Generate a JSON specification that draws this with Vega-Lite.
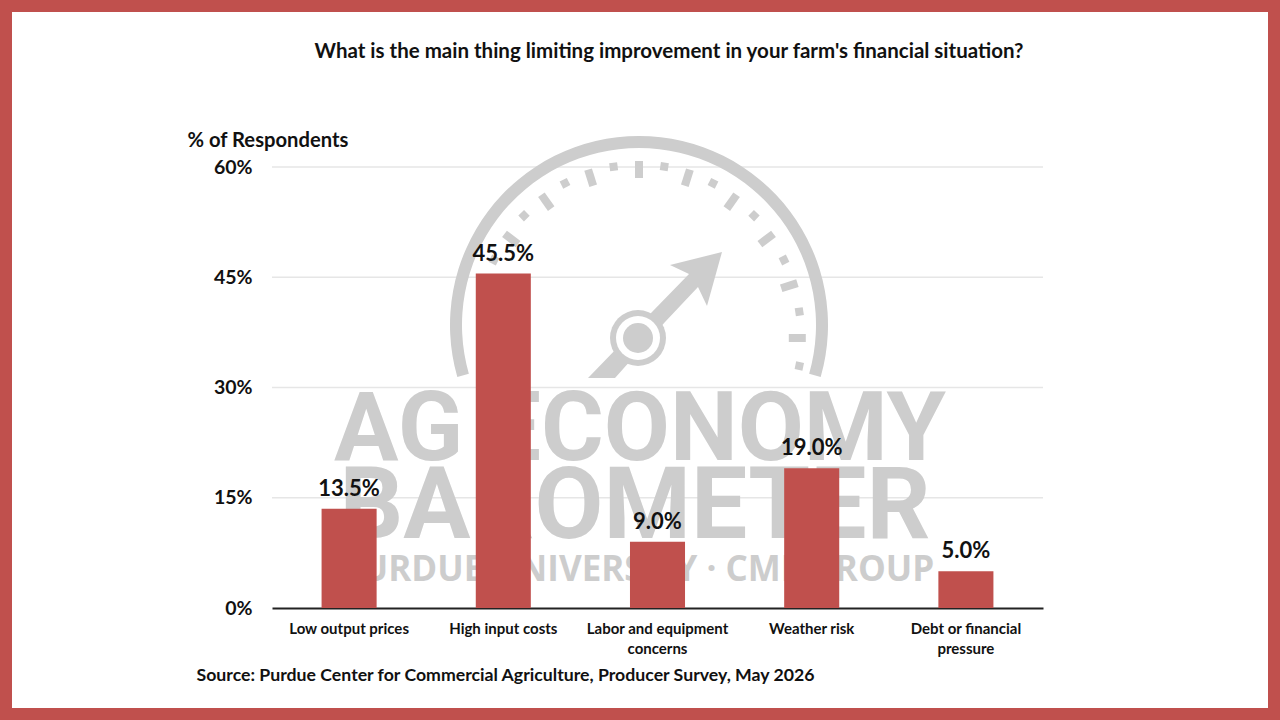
{
"$schema":"https://vega.github.io/schema/vega-lite/v6.json",
"width":1280,"height":720,"padding":0,"autosize":"none","background":"white",
"view":{"stroke":"#c0504d","strokeWidth":24,"fill":"white"},
"title":{"text":"What is the main thing limiting improvement in your farm's financial situation?","font":"Lato","fontWeight":"bold","fontSize":20.5,"color":"#111111","anchor":"middle","frame":"group","baseline":"middle","offset":0,"dx":29,"dy":72},
"datasets":{
"survey":[
{"reason":"Low output prices","share":13.5},
{"reason":"High input costs","share":45.5},
{"reason":"Labor and equipment concerns","share":9.0},
{"reason":"Weather risk","share":19.0},
{"reason":"Debt or financial pressure","share":5.0}],
"gridlines":[{"level":15,"from":0,"to":1},{"level":30,"from":0,"to":1},{"level":45,"from":0,"to":1},{"level":60,"from":0,"to":1}],
"logo":[
{"part":"rim","wx":639,"wy":325,"t":-1.85,"t2":1.85},
{"part":"hub","wx":638,"wy":338,"t":0,"t2":6.2832},
{"part":"needle","wx":638,"wy":338},
{"part":"tick","wx":639,"wy":161,"wx2":639,"wy2":178},
{"part":"tick","wx":684.8,"wy":185.8,"wx2":689.9,"wy2":169.6},
{"part":"tick","wx":726.8,"wy":208.6,"wx2":736.6,"wy2":194.8},
{"part":"tick","wx":759.9,"wy":244.1,"wx2":773.5,"wy2":233.9},
{"part":"tick","wx":781.2,"wy":288.3,"wx2":797.4,"wy2":283.1},
{"part":"tick","wx":788.8,"wy":338,"wx2":805.8,"wy2":338},
{"part":"tick","wx":593.2,"wy":185.8,"wx2":588.1,"wy2":169.6},
{"part":"tick","wx":551.2,"wy":208.6,"wx2":541.4,"wy2":194.8},
{"part":"tick","wx":518.1,"wy":244.1,"wx2":504.5,"wy2":233.9},
{"part":"tick","wx":663.7,"wy":170.7,"wx2":664.9,"wy2":162.7},
{"part":"tick","wx":711.2,"wy":186.9,"wx2":714.8,"wy2":179.7},
{"part":"tick","wx":751.2,"wy":218.6,"wx2":756.8,"wy2":212.8},
{"part":"tick","wx":780.4,"wy":261.8,"wx2":787.6,"wy2":258.2},
{"part":"tick","wx":795.3,"wy":312.3,"wx2":803.3,"wy2":311.1},
{"part":"tick","wx":795.4,"wy":365.2,"wx2":803.2,"wy2":366.8},
{"part":"tick","wx":614.1,"wy":170.7,"wx2":613.1,"wy2":162.7},
{"part":"tick","wx":566.8,"wy":186.9,"wx2":563.2,"wy2":179.7},
{"part":"tick","wx":526.8,"wy":218.6,"wx2":521.2,"wy2":212.8},
{"part":"tick","wx":497.6,"wy":261.8,"wx2":490.4,"wy2":258.2},
{"part":"big","wx":640,"wy":460,"word":"AG ECONOMY"},
{"part":"mid","wx":635,"wy":538,"word":"BAROMETER"},
{"part":"small","wx":637,"wy":581,"word":"PURDUE UNIVERSITY · CME GROUP"}
]},
"layer":[
{"data":{"name":"gridlines"},
 "mark":{"type":"rule","color":"#e6e6e6","strokeWidth":1.5},
 "encoding":{
  "x":{"field":"from","type":"quantitative","axis":null,"scale":{"domain":[0,1],"range":[272,1043],"nice":false}},
  "x2":{"field":"to"},
  "y":{"field":"level","type":"quantitative","axis":null,"scale":{"domain":[0,60],"range":[608,167],"nice":false}}}},
{"data":{"name":"logo"},
 "encoding":{
  "x":{"field":"wx","type":"quantitative","axis":null,"scale":{"domain":[0,1280],"range":[0,1280],"nice":false,"zero":false}},
  "y":{"field":"wy","type":"quantitative","axis":null,"scale":{"domain":[0,720],"range":[0,720],"nice":false,"zero":false}}},
 "layer":[
 {"transform":[{"filter":"datum.part==='rim'"}],"mark":{"type":"arc","innerRadius":177,"outerRadius":189,"color":"#cdcdcd"},
  "encoding":{"theta":{"field":"t","type":"quantitative","scale":null},"theta2":{"field":"t2"}}},
 {"transform":[{"filter":"datum.part==='tick'"}],"mark":{"type":"rule","color":"#cdcdcd","strokeWidth":8},
  "encoding":{"x2":{"field":"wx2"},"y2":{"field":"wy2"}}},
 {"transform":[{"filter":"datum.part==='needle'"}],"mark":{"type":"point","filled":true,"color":"#cdcdcd","opacity":1,"shape":"M-0.50,0.40L0.14,-0.26L0.51,-0.64L0.32,-0.73L0.84,-0.86L0.69,-0.32L0.60,-0.51L0.27,-0.16L-0.23,0.40Z","size":40000}},
 {"transform":[{"filter":"datum.part==='hub'"}],"mark":{"type":"arc","innerRadius":0,"outerRadius":28,"color":"#cdcdcd"},
  "encoding":{"theta":{"field":"t","type":"quantitative","scale":null},"theta2":{"field":"t2"}}},
 {"transform":[{"filter":"datum.part==='hub'"}],"mark":{"type":"arc","innerRadius":0,"outerRadius":22,"color":"white"},
  "encoding":{"theta":{"field":"t","type":"quantitative","scale":null},"theta2":{"field":"t2"}}},
 {"transform":[{"filter":"datum.part==='hub'"}],"mark":{"type":"arc","innerRadius":0,"outerRadius":15,"color":"#cdcdcd"},
  "encoding":{"theta":{"field":"t","type":"quantitative","scale":null},"theta2":{"field":"t2"}}},
 {"transform":[{"filter":"datum.part==='big'"}],"mark":{"type":"text","font":"Roboto","fontWeight":"bold","fontSize":96,"color":"#cdcdcd","baseline":"alphabetic","align":"center"},
  "encoding":{"text":{"field":"word"}}},
 {"transform":[{"filter":"datum.part==='mid'"}],"mark":{"type":"text","font":"Roboto","fontWeight":"bold","fontSize":100,"color":"#cdcdcd","baseline":"alphabetic","align":"center"},
  "encoding":{"text":{"field":"word"}}},
 {"transform":[{"filter":"datum.part==='small'"}],"mark":{"type":"text","font":"Open Sans","fontWeight":"bold","fontSize":35,"color":"#cdcdcd","baseline":"alphabetic","align":"center"},
  "encoding":{"text":{"field":"word"}}}
 ]},
{"data":{"name":"survey"},
 "transform":[{"calculate":"format(datum.share,'.1f')+'%'","as":"shareLabel"}],
 "encoding":{
  "x":{"field":"reason","type":"nominal","sort":null,
   "scale":{"range":[272,1043],"paddingInner":0.643,"paddingOuter":0.3215},
   "axis":{"orient":"bottom","offset":-112,"title":"Source: Purdue Center for Commercial Agriculture, Producer Survey, May 2026","titleFont":"Lato","titleFontWeight":"bold","titleFontSize":17.7,"titleColor":"#111111","titleX":196,"titleY":67,"titleAlign":"left","titleAnchor":"start","titleBaseline":"middle","labelAngle":0,"labelFont":"Lato","labelFontWeight":"bold","labelFontSize":15,"labelColor":"#111111","labelPadding":13,"labelLineHeight":20,"ticks":false,"domainColor":"#222222","domainWidth":2,"labelLimit":0,
    "labelExpr":"datum.label==='Labor and equipment concerns'?['Labor and equipment','concerns']:datum.label==='Debt or financial pressure'?['Debt or financial','pressure']:datum.label"}},
  "y":{"field":"share","type":"quantitative",
   "scale":{"domain":[0,60],"range":[608,167],"nice":false},
   "axis":{"orient":"left","offset":-272,"values":[0,15,30,45,60],"labelExpr":"datum.value+'%'","grid":false,"domain":false,"ticks":false,"labelPadding":20,"labelFont":"Lato","labelFontWeight":"bold","labelFontSize":19.5,"labelColor":"#111111","title":"% of Respondents","titleFont":"Lato","titleFontWeight":"bold","titleFontSize":20.2,"titleColor":"#111111","titleAngle":0,"titleAlign":"left","titleBaseline":"middle","titleX":-85,"titleY":140}}},
 "layer":[
 {"mark":{"type":"bar","color":"#c0504d"}},
 {"mark":{"type":"text","font":"Lato","fontWeight":"bold","fontSize":22,"color":"#111111","baseline":"bottom","dy":-8},
  "encoding":{"text":{"field":"shareLabel"}}}
 ]}
],
"resolve":{"scale":{"x":"independent","y":"independent"}}
}
